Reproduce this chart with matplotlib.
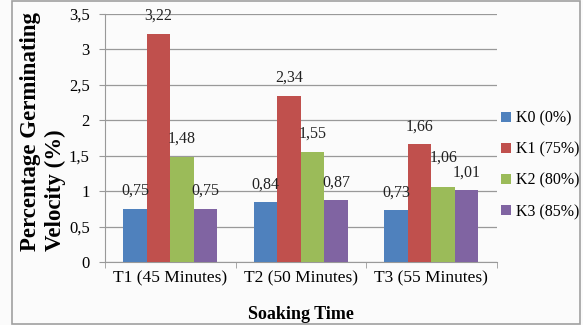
import matplotlib.pyplot as plt
import numpy as np
from matplotlib.patches import Rectangle

plt.rcParams['font.family'] = ['Liberation Serif', 'DejaVu Serif']

groups = ["T1 (45 Minutes)", "T2 (50 Minutes)", "T3 (55 Minutes)"]
series = ["K0 (0%)", "K1 (75%)", "K2 (80%)", "K3 (85%)"]
k0 = [0.75, 0.84, 0.73]
k1 = [3.22, 2.34, 1.66]
k2 = [1.48, 1.55, 1.06]
k3 = [0.75, 0.87, 1.01]
values = [k0, k1, k2, k3]
colors = ["#4F81BD", "#C0504D", "#9BBB59", "#8064A2"]

# extra lift (points) for labels that would collide, like Excel does
nudge = {(2, 2): 8}

fig = plt.figure(figsize=(5.83, 3.25), dpi=100)
fig.patch.set_facecolor("#fbfbfb")
fig.patches.append(Rectangle((0.02, 0.003), 0.975, 0.994, transform=fig.transFigure,
                             fill=False, edgecolor="#a0a0a0", linewidth=1.2))
ax = fig.add_axes([0.180, 0.194, 0.672, 0.763])
ax.set_facecolor("#fbfbfb")

x = np.arange(len(groups))
w = 0.18
for i, (name, vals, c) in enumerate(zip(series, values, colors)):
    pos = x + (i - 1.5) * w
    bars = ax.bar(pos, vals, w, color=c, label=name, zorder=3)
    for j, (b, v) in enumerate(zip(bars, vals)):
        ax.annotate(f"{v:.2f}".replace(".", ","), (b.get_x() + b.get_width() / 2, v),
                    xytext=(0, 13 + nudge.get((i, j), 0)), textcoords="offset points",
                    ha="center", va="center", fontsize=11.5, color="#222222", zorder=4)

ax.set_xlim(-0.5, 2.5)
ax.set_ylim(0, 3.5)
yt = np.arange(0, 3.51, 0.5)
ax.set_yticks(yt)
ax.set_yticklabels([f"{t:g}".replace(".", ",") for t in yt], fontsize=12)
ax.set_xticks(x)
ax.set_xticklabels(groups, fontsize=12.5)
ax.set_xticks([-0.5, 0.5, 1.5, 2.5], minor=True)
ax.tick_params(axis="x", which="major", length=0, pad=6)
ax.tick_params(axis="x", which="minor", length=4, color="#999999")
ax.tick_params(axis="y", length=4, color="#999999", pad=7)
ax.grid(axis="y", color="#999999", linewidth=0.9, zorder=0)
for s in ["top", "right"]:
    ax.spines[s].set_visible(False)
ax.spines["left"].set_color("#999999")
ax.spines["bottom"].set_color("#999999")

ax.set_xlabel("Soaking Time", fontsize=13, fontweight="bold", labelpad=14)
fig.text(0.074, 0.228, "Percentage Germinating\nVelocity (%)", rotation=90,
         ha="center", va="bottom", multialignment="left", fontsize=16.5,
         fontweight="bold", linespacing=1.25)

ax.legend(loc="center left", bbox_to_anchor=(0.975, 0.39), frameon=False, fontsize=11.5,
          handlelength=0.6, handleheight=0.6, handletextpad=0.3, labelspacing=0.95)

fig.savefig("out.png", dpi=100, facecolor=fig.get_facecolor())
